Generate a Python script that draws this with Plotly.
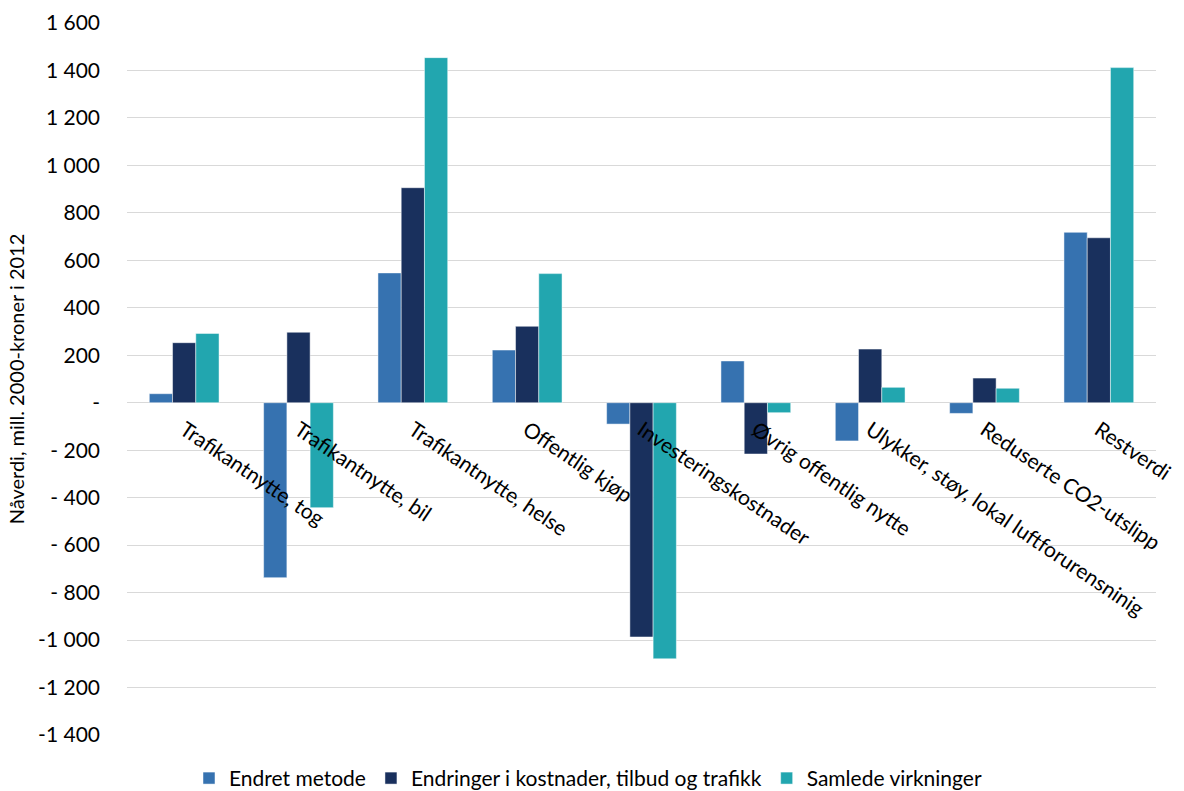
import plotly.graph_objects as go

categories = [
    "Trafikantnytte, tog",
    "Trafikantnytte, bil",
    "Trafikantnytte, helse",
    "Offentlig kjøp",
    "Investeringskostnader",
    "Øvrig offentlig nytte",
    "Ulykker, støy, lokal luftforurensninig",
    "Reduserte CO2-utslipp",
    "Restverdi",
]
endret_metode = [38, -737, 547, 222, -90, 176, -161, -45, 718]
endringer_kostnader = [253, 297, 906, 322, -987, -216, 226, 104, 695]
samlede_virkninger = [292, -442, 1454, 544, -1079, -42, 65, 61, 1412]

series_names = ["Endret metode", "Endringer i kostnader, tilbud og trafikk", "Samlede virkninger"]
series_values = [endret_metode, endringer_kostnader, samlede_virkninger]
colors = ["#3672B0", "#19305D", "#22A6AF"]

ytick_vals = list(range(-1400, 1601, 200))
ytick_text = ["-1 400", "-1 200", "-1 000", "- 800", "- 600", "- 400", "- 200", "-",
              "200", "400", "600", "800", "1 000", "1 200", "1 400", "1 600"]

FONT = "Lato, Carlito, Calibri, sans-serif"

fig = go.Figure()
for name, vals, col in zip(series_names, series_values, colors):
    fig.add_trace(go.Bar(
        x=categories, y=vals, name=name,
        marker=dict(color=col, line=dict(color="rgba(255,255,255,0.6)", width=0.8)),
    ))

ymin, ymax = -1400, 1600
zero_pos = (0 - ymin) / (ymax - ymin)

fig.update_layout(
    width=1184, height=791,
    margin=dict(l=127, r=28, t=23, b=56, autoexpand=False),
    paper_bgcolor="white", plot_bgcolor="white",
    barmode="group", bargap=0.39, bargroupgap=0,
    font=dict(family=FONT, size=21, color="#000000"),
    showlegend=True,
    legend=dict(orientation="h", x=0.448, xanchor="center", y=-0.061, yanchor="middle",
                font=dict(size=21), traceorder="normal", itemwidth=30),
    xaxis=dict(
        type="category", anchor="free", position=zero_pos,
        tickangle=34, showgrid=False, showline=False, ticks="",
        tickfont=dict(size=21), automargin=False, ticklabelstandoff=10,
    ),
    yaxis=dict(
        range=[ymin, ymax], tickvals=ytick_vals, ticktext=ytick_text,
        showgrid=True, gridcolor="#D9D9D9", gridwidth=1.3,
        zeroline=True, zerolinecolor="#D9D9D9", zerolinewidth=1.3,
        tickfont=dict(size=21), ticklabelstandoff=26,
        title=dict(text="Nåverdi, mill. 2000-kroner i 2012", font=dict(size=20), standoff=8),
        automargin=False,
    ),
)

fig.write_html("out.html")
